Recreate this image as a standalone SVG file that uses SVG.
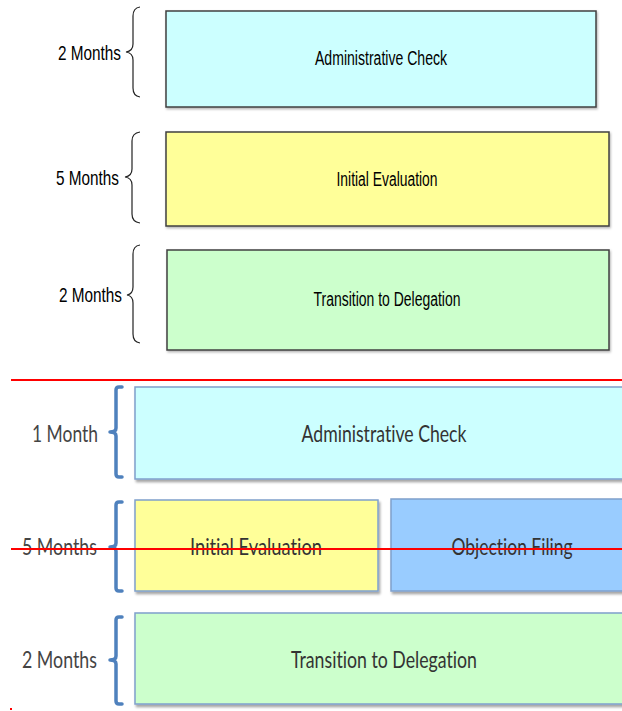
<svg xmlns="http://www.w3.org/2000/svg" width="622" height="711" viewBox="0 0 622 711">
<defs>
<filter id="sh" x="-5%" y="-10%" width="115%" height="130%">
<feDropShadow dx="1.5" dy="2.5" stdDeviation="1.2" flood-color="#000" flood-opacity="0.35"/>
</filter>
<filter id="sh2" x="-5%" y="-10%" width="115%" height="130%">
<feDropShadow dx="1" dy="1.5" stdDeviation="0.8" flood-color="#000" flood-opacity="0.3"/>
</filter>
<style>
.tb{stroke:#404040;stroke-width:1.5;filter:url(#sh2)}
.bb{stroke:#7fa0cc;stroke-width:1.5;filter:url(#sh)}
.tt{font-family:"Liberation Sans",Arial,sans-serif;font-size:20px;fill:#000;text-anchor:middle}
.tl{font-family:"Liberation Sans",Arial,sans-serif;font-size:21px;fill:#000;text-anchor:end}
.bt{font-family:Lato,"Open Sans",sans-serif;font-size:24px;fill:#333;text-anchor:middle;font-variant-ligatures:none}
.bl{font-family:Lato,"Open Sans",sans-serif;font-size:24px;fill:#444;text-anchor:end}
.tbr{fill:none;stroke:#222;stroke-width:1.2}
.bbr{fill:none;stroke:#4f81bd;stroke-width:3.5;stroke-linejoin:round;stroke-linecap:round}
.red{stroke:#ff0000;stroke-width:2}
</style>
</defs>
<rect width="622" height="711" fill="#fff"/>

<!-- top diagram -->
<g id="top-admin">
<rect class="tb" x="166" y="11" width="430" height="96" fill="#ccffff"/>
<text class="tt" x="381" y="65" textLength="132" lengthAdjust="spacingAndGlyphs">Administrative Check</text>
</g>
<g id="top-initial">
<rect class="tb" x="166" y="132" width="443" height="94" fill="#ffff99"/>
<text class="tt" x="387" y="186" textLength="101" lengthAdjust="spacingAndGlyphs">Initial Evaluation</text>
</g>
<g id="top-transition">
<rect class="tb" x="167" y="250" width="442" height="100" fill="#ccffcc"/>
<text class="tt" x="387" y="306" textLength="147" lengthAdjust="spacingAndGlyphs">Transition to Delegation</text>
</g>
<g id="top-labels">
<text class="tl" x="121" y="60" textLength="63" lengthAdjust="spacingAndGlyphs">2 Months</text>
<text class="tl" x="119" y="185" textLength="63" lengthAdjust="spacingAndGlyphs">5 Months</text>
<text class="tl" x="122" y="302" textLength="63" lengthAdjust="spacingAndGlyphs">2 Months</text>
</g>

<!-- bottom diagram -->
<g id="bot-admin">
<rect class="bb" x="135" y="387" width="492" height="92" fill="#ccffff"/>
<text class="bt" x="384" y="442" textLength="165" lengthAdjust="spacingAndGlyphs">Administrative Check</text>
</g>
<g id="bot-initial">
<rect class="bb" x="135" y="500" width="243" height="91" fill="#ffff99"/>
<text class="bt" x="256" y="555" textLength="132" lengthAdjust="spacingAndGlyphs">Initial Evaluation</text>
</g>
<g id="bot-objection">
<rect class="bb" x="391" y="499" width="236" height="92" fill="#99ccff"/>
<text class="bt" x="512" y="555" textLength="121" lengthAdjust="spacingAndGlyphs">Objection Filing</text>
</g>
<g id="bot-transition">
<rect class="bb" x="135" y="613" width="492" height="91" fill="#ccffcc"/>
<text class="bt" x="384" y="668" textLength="186" lengthAdjust="spacingAndGlyphs">Transition to Delegation</text>
</g>
<g id="bot-labels">
<text class="bl" x="98" y="442" textLength="66" lengthAdjust="spacingAndGlyphs">1 Month</text>
<text class="bl" x="97" y="555" textLength="75" lengthAdjust="spacingAndGlyphs">5 Months</text>
<text class="bl" x="97" y="668" textLength="75" lengthAdjust="spacingAndGlyphs">2 Months</text>
</g>

<g id="connectors">
<path class="tbr" d="M140,7 Q133,8 133,16 L133,44 Q133,51 126,52 Q133,53 133,60 L133,88 Q133,96 140,97"/>
<path class="tbr" d="M140,132 Q132,133 132,141 L132,169 Q132,176 125,177 Q132,178 132,185 L132,214 Q132,222 140,223"/>
<path class="tbr" d="M140,245 Q133,246 133,254 L133,287 Q133,294 127,295 Q133,296 133,303 L133,334 Q133,342 140,343"/>
<path class="bbr" d="M122,387 H119 Q116,387 116,390 V428 Q116,432 110,432 Q116,432 116,436 V474 Q116,477 119,477 H122"/>
<path class="bbr" d="M122,502 H119 Q116,502 116,505 V543 Q116,547 110,547 Q116,547 116,551 V588 Q116,591 119,591 H122"/>
<path class="bbr" d="M122,617 H119 Q116,617 116,620 V656 Q116,660 110,660 Q116,660 116,664 V701 Q116,704 119,704 H122"/>
</g>

<g id="annotations">
<line class="red" x1="11" y1="380" x2="622" y2="380"/>
<line class="red" x1="11" y1="549" x2="622" y2="549"/>
<rect x="10" y="708" width="2" height="2" fill="#ff0000"/>
</g>
</svg>
